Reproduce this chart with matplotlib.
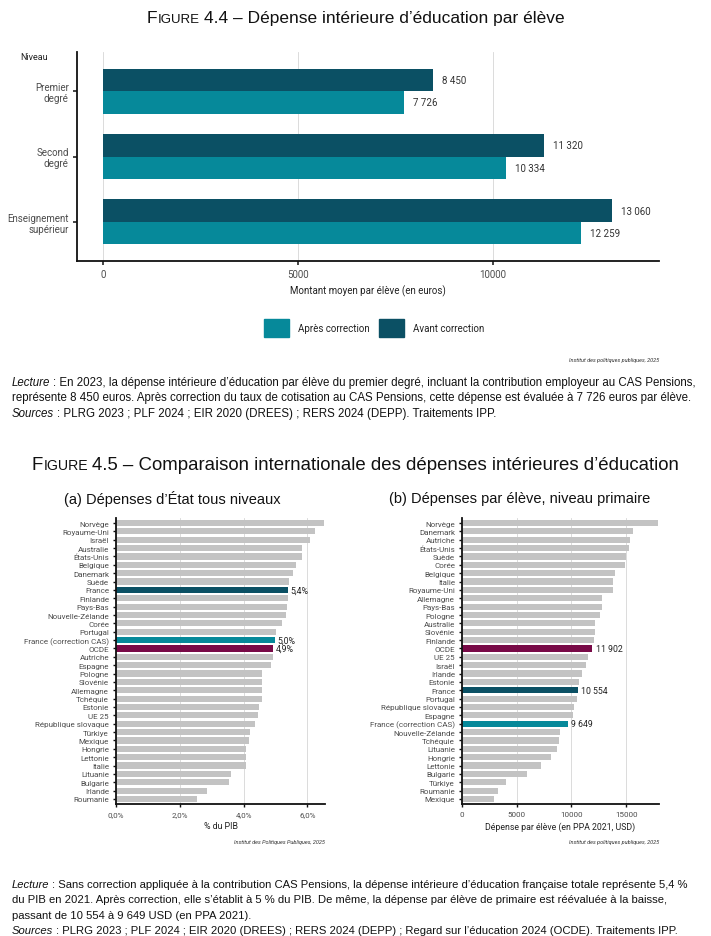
import matplotlib
matplotlib.use("Agg")
import matplotlib.pyplot as plt
from matplotlib.patches import Patch
from matplotlib.ticker import FuncFormatter
import numpy as np

W, H = 711, 937

# Figure 4.4
niveaux = ["Premier\ndegré", "Second\ndegré", "Enseignement\nsupérieur"]
avant_correction = [8450, 11320, 13060]
apres_correction = [7726, 10334, 12259]

# Figure 4.5 (a) : % du PIB
pays_a = ["Norvège", "Royaume-Uni", "Israël", "Australie", "États-Unis", "Belgique",
          "Danemark", "Suède", "France", "Finlande", "Pays-Bas", "Nouvelle-Zélande",
          "Corée", "Portugal", "France (correction CAS)", "OCDE", "Autriche", "Espagne",
          "Pologne", "Slovénie", "Allemagne", "Tchéquie", "Estonie", "UE 25",
          "République slovaque", "Türkiye", "Mexique", "Hongrie", "Lettonie", "Italie",
          "Lituanie", "Bulgarie", "Irlande", "Roumanie"]
pib_a = [6.52, 6.25, 6.08, 5.84, 5.82, 5.64, 5.55, 5.43, 5.4, 5.38, 5.37, 5.33,
         5.20, 5.01, 4.98, 4.93, 4.92, 4.86, 4.59, 4.59, 4.58, 4.57, 4.49, 4.45,
         4.36, 4.21, 4.18, 4.08, 4.06, 4.06, 3.60, 3.54, 2.85, 2.54]

# Figure 4.5 (b) : dépense par élève, primaire
pays_b = ["Norvège", "Danemark", "Autriche", "États-Unis", "Suède", "Corée", "Belgique",
          "Italie", "Royaume-Uni", "Allemagne", "Pays-Bas", "Pologne", "Australie",
          "Slovénie", "Finlande", "OCDE", "UE 25", "Israël", "Irlande", "Estonie",
          "France", "Portugal", "République slovaque", "Espagne", "France (correction CAS)",
          "Nouvelle-Zélande", "Tchéquie", "Lituanie", "Hongrie", "Lettonie", "Bulgarie",
          "Türkiye", "Roumanie", "Mexique"]
eleve_b = [17950, 15580, 15390, 15240, 15030, 14850, 13960, 13780, 13780, 12810, 12810,
           12630, 12170, 12140, 12050, 11902, 11470, 11320, 10920, 10650, 10554, 10470,
           10190, 10160, 9649, 8940, 8820, 8700, 8150, 7210, 5960, 4020, 3320, 2920]

DARK = "#0b5064"
LIGHT = "#06899a"
PURPLE = "#780a47"
GREY = "#c3c3c3"
highlight = {"France": DARK, "France (correction CAS)": LIGHT, "OCDE": PURPLE}

CHART_FONT = "Roboto"
DOC_FONT = "Liberation Sans"
TXT = "#4d4d4d"

fig = plt.figure(figsize=(W / 100, H / 100), dpi=100)
bg = fig.add_axes([0, 0, 1, 1], zorder=-1)
bg.set_xlim(0, W)
bg.set_ylim(H, 0)
bg.axis("off")
renderer = fig.canvas.get_renderer()


def px_axes(l, t, r, b):
    return fig.add_axes([l / W, 1 - b / H, (r - l) / W, (b - t) / H])


def rich_line(x, y, parts, ha="left"):
    texts = []
    cur = x
    for s, gap, kw in parts:
        t = bg.text(cur, y, s, va="baseline", **kw)
        cur += t.get_window_extent(renderer).width + gap
        texts.append(t)
    if ha == "center":
        shift = (cur - x) / 2
        for t in texts:
            t.set_x(t.get_position()[0] - shift)


def fig_title(y, number, rest, size=12.5):
    big = dict(fontsize=size, family=DOC_FONT, color="#111")
    small = dict(fontsize=size * 0.76, family=DOC_FONT, color="#111")
    rich_line(W / 2, y, [("F", 0.8, big), ("IGURE", 4, small),
                         (number + " – " + rest, 0, big)], ha="center")


def lecture(x, y, label, lines, size=8, step=15.5):
    it = dict(fontsize=size, family=DOC_FONT, style="italic", color="#111")
    rm = dict(fontsize=size, family=DOC_FONT, color="#111")
    for i, (lab, line) in enumerate(zip(label, lines)):
        if lab:
            rich_line(x, y + i * step, [(lab, 3, it), (line, 0, rm)])
        else:
            bg.text(x, y + i * step, line, va="baseline", **rm)


def style_axes(ax):
    for s in ["top", "right"]:
        ax.spines[s].set_visible(False)
    for s in ["left", "bottom"]:
        ax.spines[s].set_color("#111")
        ax.spines[s].set_linewidth(1.3)
    ax.set_axisbelow(True)
    ax.grid(axis="x", color="#d6d6d6", lw=0.6)


def fmt_int(v):
    return f"{v:,}".replace(",", " ")


# ---------- Figure 4.4 ----------
fig_title(23, "4.4", "Dépense intérieure d’éducation par élève")

ax = px_axes(77, 53, 659, 262)
y = np.arange(len(niveaux))
h = 0.344
ax.barh(y - h / 2, avant_correction, height=h, color=DARK)
ax.barh(y + h / 2, apres_correction, height=h, color=LIGHT)
for yi, v in zip(y - h / 2, avant_correction):
    ax.text(v + 230, yi, fmt_int(v), va="center", fontsize=7, family=CHART_FONT, color="#333")
for yi, v in zip(y + h / 2, apres_correction):
    ax.text(v + 230, yi, fmt_int(v), va="center", fontsize=7, family=CHART_FONT, color="#333")
ax.set_ylim(2.6, -0.6)
ax.set_xlim(-667, 14256)
ax.set_yticks(y, niveaux, fontsize=7, family=CHART_FONT, color=TXT, linespacing=1.1)
ax.set_xticks([0, 5000, 10000])
ax.set_xticklabels(["0", "5000", "10000"], fontsize=7, family=CHART_FONT, color=TXT)
ax.tick_params(axis="both", length=3, width=1.1, color="#111", pad=3)
ax.set_xlabel("Montant moyen par élève (en euros)", fontsize=7, family=CHART_FONT,
              color="#222", labelpad=4)
style_axes(ax)
bg.text(20, 57, "Niveau", fontsize=6.5, family=CHART_FONT, va="center", color="#222")

fig.legend(handles=[Patch(color=LIGHT, label="Après correction"),
                    Patch(color=DARK, label="Avant correction")],
           loc="center", bbox_to_anchor=(374 / W, 1 - 329 / H), ncol=2, frameon=False,
           prop={"family": CHART_FONT, "size": 7}, handlelength=2.6, handleheight=2.6,
           handletextpad=0.9, columnspacing=1.0, labelcolor="#222")
bg.text(659, 361, "Institut des politiques publiques, 2025", fontsize=4, style="italic",
        family=CHART_FONT, ha="right", va="center", color="#333")

lecture(12, 386, ["Lecture", "", "Sources"], [
    ": En 2023, la dépense intérieure d’éducation par élève du premier degré, incluant la contribution employeur au CAS Pensions,",
    "représente 8 450 euros. Après correction du taux de cotisation au CAS Pensions, cette dépense est évaluée à 7 726 euros par élève.",
    ": PLRG 2023 ; PLF 2024 ; EIR 2020 (DREES) ; RERS 2024 (DEPP). Traitements IPP."],
    size=8.3)

# ---------- Figure 4.5 ----------
fig_title(470, "4.5", "Comparaison internationale des dépenses intérieures d’éducation",
          size=13.4)
bg.text(172, 499, "(a) Dépenses d’État tous niveaux", fontsize=10.5, family=DOC_FONT,
        ha="center", va="center", color="#111")
bg.text(520, 499, "(b) Dépenses par élève, niveau primaire", fontsize=10.5, family=DOC_FONT,
        ha="center", va="center", color="#111")


def panel(box, pays, vals, xlim, ticks, tick_fmt, lab_fmt, offset, xlabel, credit):
    a = px_axes(*box)
    yy = np.arange(len(pays))
    cols = [highlight.get(p, GREY) for p in pays]
    a.barh(yy, vals, height=0.74, color=cols)
    for yi, p, v in zip(yy, pays, vals):
        if p in highlight:
            a.text(v + offset, yi, lab_fmt(v), va="center", fontsize=6.3,
                   family=CHART_FONT, color="#222")
    a.set_ylim(len(pays) - 0.4, -0.6)
    a.set_xlim(*xlim)
    a.set_yticks(yy, pays, fontsize=5.8, family=CHART_FONT, color=TXT)
    a.set_xticks(ticks)
    a.xaxis.set_major_formatter(FuncFormatter(tick_fmt))
    for t in a.get_xticklabels():
        t.set_fontsize(5.8)
        t.set_family(CHART_FONT)
        t.set_color(TXT)
    a.tick_params(axis="both", length=2.5, width=1.0, color="#111", pad=2.5)
    a.set_xlabel(xlabel, fontsize=6.3, family=CHART_FONT, color="#222", labelpad=3)
    style_axes(a)
    bg.text(box[2], 843, credit, fontsize=4, style="italic", family=CHART_FONT,
            ha="right", va="center", color="#333")
    return a


panel((116, 519, 325, 805), pays_a, pib_a, (0, 6.55), [0, 2, 4, 6],
      lambda v, p: f"{v:.1f}%".replace(".", ","),
      lambda v: f"{v:.1f}%".replace(".", ","), 0.07, "% du PIB",
      "Institut des Politiques Publiques, 2025")
panel((462, 519, 659, 805), pays_b, eleve_b, (0, 18000), [0, 5000, 10000, 15000],
      lambda v, p: f"{v:.0f}", fmt_int, 300, "Dépense par élève (en PPA 2021, USD)",
      "Institut des politiques publiques, 2025")

lecture(12, 888, ["Lecture", "", "", "Sources"], [
    ": Sans correction appliquée à la contribution CAS Pensions, la dépense intérieure d’éducation française totale représente 5,4 %",
    "du PIB en 2021. Après correction, elle s’établit à 5 % du PIB. De même, la dépense par élève de primaire est réévaluée à la baisse,",
    "passant de 10 554 à 9 649 USD (en PPA 2021).",
    ": PLRG 2023 ; PLF 2024 ; EIR 2020 (DREES) ; RERS 2024 (DEPP) ; Regard sur l’éducation 2024 (OCDE). Traitements IPP."],
    size=8.1)

fig.savefig("out.png", dpi=100)
